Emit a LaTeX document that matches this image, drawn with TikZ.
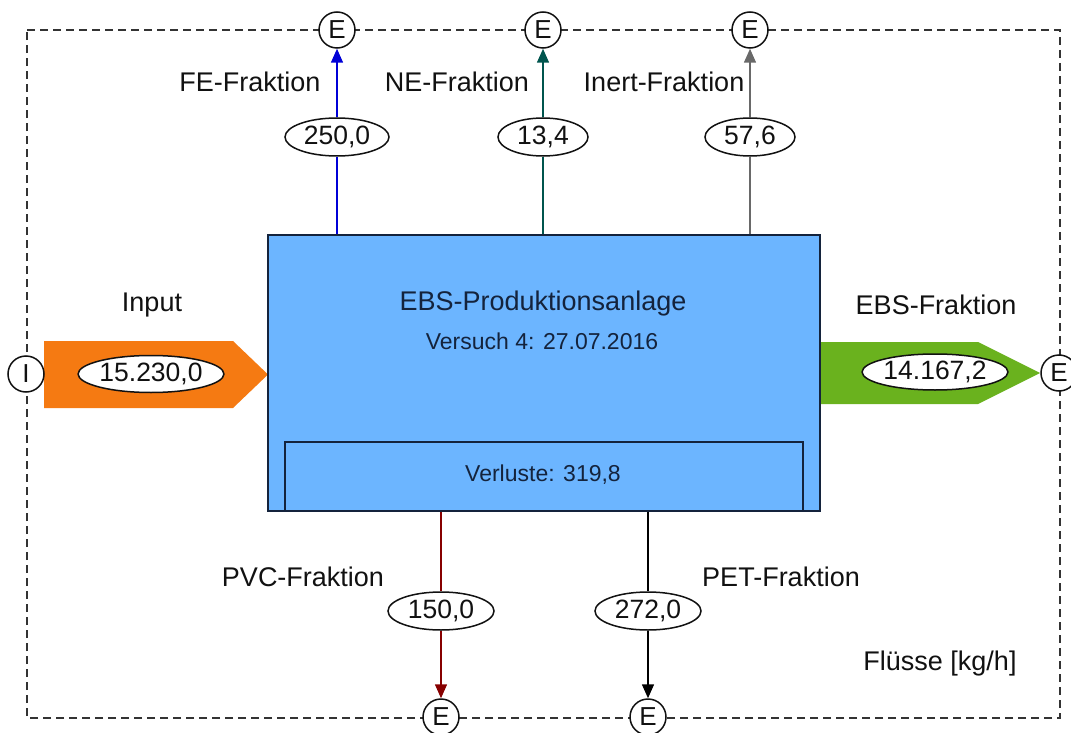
\documentclass[tikz,border=0pt]{standalone}
\usepackage{fontspec}
\setmainfont{Liberation Sans}
\usetikzlibrary{shapes.geometric,arrows.meta}
\definecolor{boxblue}{RGB}{108,181,255}
\definecolor{boxline}{RGB}{20,35,60}
\definecolor{inorange}{RGB}{245,122,18}
\definecolor{outgreen}{RGB}{106,178,30}
\definecolor{feblue}{RGB}{0,0,215}
\definecolor{neteal}{RGB}{0,85,78}
\definecolor{inertgray}{RGB}{105,105,105}
\definecolor{pvcred}{RGB}{135,0,0}
\definecolor{txt}{RGB}{17,17,17}
\begin{document}
\begin{tikzpicture}[x=1pt,y=-1pt,
  lbl/.style={font=\fontsize{27}{30}\selectfont, inner sep=0pt, text=txt},
  sub/.style={font=\fontsize{23}{26}\selectfont, inner sep=0pt, text=boxline},
  val/.style={ellipse, draw=txt, fill=white, line width=1.5pt, inner sep=0pt,
              minimum height=38pt, font=\fontsize{26.5}{28}\selectfont, text=txt},
  term/.style={circle, draw=txt, fill=white, line width=1.5pt, inner sep=0pt,
               minimum size=36pt, font=\fontsize{26}{28}\selectfont, text=txt},
  flowline/.style={line width=1.5pt},
  flowarrow/.style={line width=1.5pt, -{Triangle[length=14pt,width=12pt]}},
  sysframe/.style={dash pattern=on 8pt off 5pt, line width=1.4pt, draw=black!80}
]
\useasboundingbox (0,0) rectangle (1071,733);

% system boundary
\coordinate (f1) at (27,30);
\coordinate (f2) at (1060,30);
\coordinate (f3) at (1060,718);
\coordinate (f4) at (27,718);
\draw[sysframe] (f1) -- (f2) -- (f3) -- (f4) -- cycle;

% wide flow arrows
\fill[inorange] (44,341) -- (233,341) -- (268,374.5) -- (233,408) -- (44,408) -- cycle;
\fill[outgreen] (820,342) -- (978,342) -- (1040,373) -- (978,404) -- (820,404) -- cycle;

% process box
\node[draw=boxline, fill=boxblue, line width=1.5pt, minimum width=552pt,
      minimum height=276pt, inner sep=0pt] (plant) at (544,373) {};
\node[draw=boxline, line width=1.5pt, minimum width=518pt, minimum height=69pt,
      inner sep=0pt] (loss) at (544,476.5) {};
\node[lbl, text=boxline] (title) at (543,304) {EBS-Produktionsanlage};
\node[sub] (date) at (542,341) {Versuch 4: 27.07.2016};
\node[sub] (losstxt) at (543,475) {Verluste: 319,8};

% terminals
\node[term] (tin) at (26,374) {I};
\node[term] (tout) at (1059,373) {E};
\node[term] (tfe) at (337,30) {E};
\node[term] (tne) at (543,30) {E};
\node[term] (tinert) at (750,30) {E};
\node[term] (tpvc) at (441,717) {E};
\node[term] (tpet) at (648,717) {E};

% values
\node[val, minimum width=142pt, minimum height=37pt] (vin) at (151,374) {15.230,0};
\node[val, minimum width=142pt, minimum height=36pt] (vout) at (935,372) {14.167,2};
\node[val, minimum width=104pt] (vfe) at (337,137) {250,0};
\node[val, minimum width=90pt] (vne) at (543,137) {13,4};
\node[val, minimum width=90pt] (vinert) at (750,137) {57,6};
\node[val, minimum width=106pt] (vpvc) at (441,611) {150,0};
\node[val, minimum width=106pt] (vpet) at (648,611) {272,0};

% labels
\node[lbl] (lfe) at (250,82) {FE-Fraktion};
\node[lbl] (lne) at (457,82) {NE-Fraktion};
\node[lbl] (linert) at (664,82) {Inert-Fraktion};
\node[lbl] (linput) at (152,305) {Input};
\node[lbl] (lebs) at (936,305) {EBS-Fraktion};
\node[lbl] (lpvc) at (303,577) {PVC-Fraktion};
\node[lbl] (lpet) at (781,577) {PET-Fraktion};
\node[lbl] (lunits) at (940,664) {Flüsse [kg/h]};

% connectors
\draw[flowline, feblue] (plant.north -| vfe) -- (vfe);
\draw[flowarrow, feblue] (vfe) -- (tfe);
\draw[flowline, neteal] (plant.north -| vne) -- (vne);
\draw[flowarrow, neteal] (vne) -- (tne);
\draw[flowline, inertgray] (plant.north -| vinert) -- (vinert);
\draw[flowarrow, inertgray] (vinert) -- (tinert);
\draw[flowline, pvcred] (plant.south -| vpvc) -- (vpvc);
\draw[flowarrow, pvcred] (vpvc) -- (tpvc);
\draw[flowline, black] (plant.south -| vpet) -- (vpet);
\draw[flowarrow, black] (vpet) -- (tpet);
\end{tikzpicture}
\end{document}
